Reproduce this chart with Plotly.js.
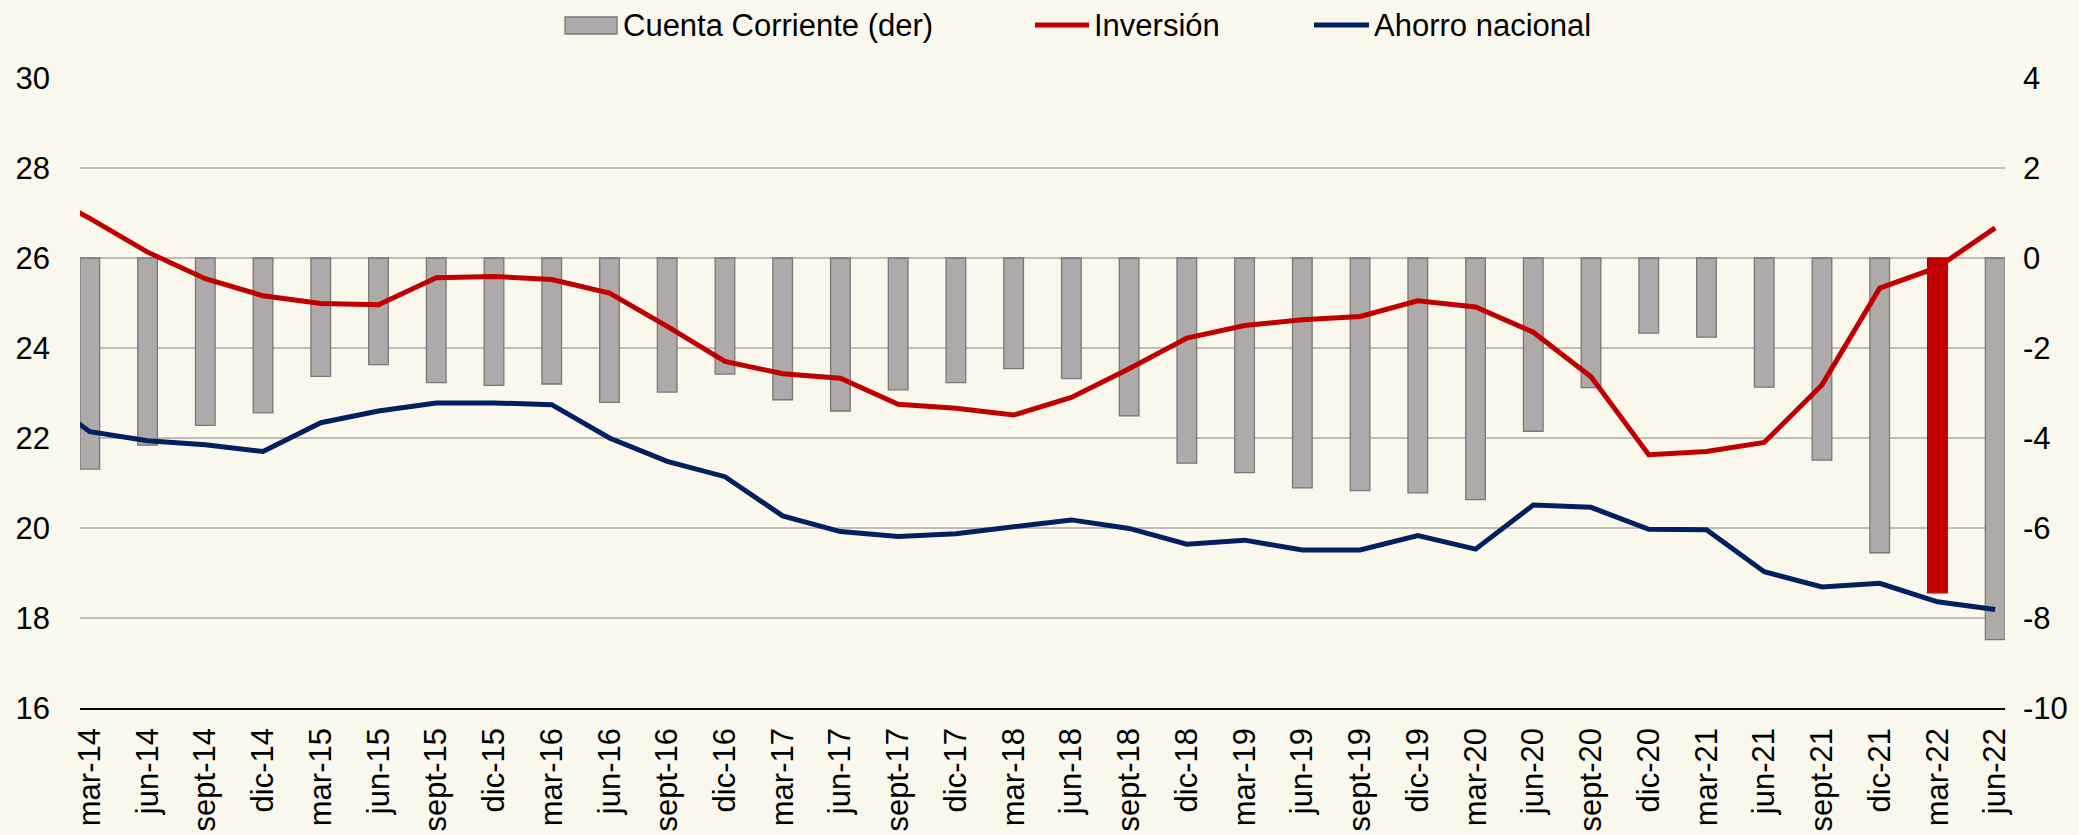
<!DOCTYPE html>
<html>
<head>
<meta charset="utf-8">
<script src="https://cdn.plot.ly/plotly-3.0.1.min.js"></script>
<style>
  html, body { margin: 0; padding: 0; background: #FAF8EC; }
  #chart { width: 2079px; height: 835px; }
</style>
</head>
<body>
<div id="chart"></div>
<script>
// Quarter labels ("dic-13" is the previous quarter, only partly visible at the left edge)
const categories = ['dic-13','mar-14','jun-14','sept-14','dic-14','mar-15','jun-15','sept-15','dic-15',
  'mar-16','jun-16','sept-16','dic-16','mar-17','jun-17','sept-17','dic-17','mar-18','jun-18','sept-18',
  'dic-18','mar-19','jun-19','sept-19','dic-19','mar-20','jun-20','sept-20','dic-20','mar-21','jun-21',
  'sept-21','dic-21','mar-22','jun-22'];

// Cuenta Corriente (% PIB, right axis)
const cuentaCorriente = [null, -4.69, -4.16, -3.72, -3.44, -2.63, -2.37, -2.77, -2.83, -2.80, -3.21,
  -2.98, -2.58, -3.15, -3.40, -2.93, -2.77, -2.46, -2.68, -3.51, -4.56, -4.77, -5.11, -5.17, -5.22,
  -5.37, -3.85, -2.88, -1.67, -1.76, -2.87, -4.49, -6.55, -7.44, -8.48];

// Inversión (% PIB, left axis)
const inversion = [27.58, 26.88, 26.13, 25.54, 25.16, 24.99, 24.96, 25.56, 25.59, 25.52, 25.22,
  24.48, 23.70, 23.43, 23.33, 22.75, 22.66, 22.51, 22.90, 23.54, 24.22, 24.50, 24.63, 24.70, 25.05,
  24.91, 24.35, 23.36, 21.63, 21.70, 21.90, 23.18, 25.33, 25.79, 26.67];

// Ahorro nacional (% PIB, left axis)
const ahorro = [23.08, 22.14, 21.94, 21.85, 21.70, 22.34, 22.60, 22.78, 22.78, 22.74, 22.00,
  21.48, 21.14, 20.27, 19.92, 19.81, 19.87, 20.03, 20.18, 19.99, 19.64, 19.73, 19.51, 19.51, 19.83,
  19.53, 20.51, 20.46, 19.97, 19.96, 19.03, 18.69, 18.77, 18.36, 18.19];

const seriesNames = ['Cuenta Corriente (der)', 'Inversión', 'Ahorro nacional'];
const highlightedQuarter = 'mar-22';

const leftTicks = [16, 18, 20, 22, 24, 26, 28, 30];
const rightTicks = [-10, -8, -6, -4, -2, 0, 2, 4];

const GRAY = '#AEAAAA', GRAY_LINE = '#7A7777', RED = '#C00000', NAVY = '#002060', BG = '#FAF8EC';
const FONT = '"Liberation Sans", Arial, sans-serif';

const barColors = categories.map(c => c === highlightedQuarter ? RED : GRAY);
const barLineColors = categories.map(c => c === highlightedQuarter ? RED : GRAY_LINE);

const traces = [
  {
    type: 'bar', name: seriesNames[0], x: categories, y: cuentaCorriente,
    yaxis: 'y', width: 0.34, showlegend: false,
    marker: { color: barColors, line: { color: barLineColors, width: 1.3 } }
  },
  {
    type: 'scatter', mode: 'lines', name: seriesNames[1], x: categories, y: inversion,
    yaxis: 'y2', line: { color: RED, width: 5 }, showlegend: false
  },
  {
    type: 'scatter', mode: 'lines', name: seriesNames[2], x: categories, y: ahorro,
    yaxis: 'y2', line: { color: NAVY, width: 5 }, showlegend: false
  }
];

// Legend drawn in the top band (paper coordinates derived from pixel layout)
const W = 2079, H = 835, ML = 80, MR = 74, MT = 78, MB = 127;
const PW = W - ML - MR, PH = H - MT - MB;
const px = v => (v - ML) / PW;
const py = v => (H - MB - v) / PH;
const legY = 25;

const shapes = [
  { type: 'rect', xref: 'paper', yref: 'paper', x0: px(565), x1: px(617), y0: py(34), y1: py(17),
    fillcolor: GRAY, line: { color: GRAY_LINE, width: 1.3 } },
  { type: 'line', xref: 'paper', yref: 'paper', x0: px(1035), x1: px(1089), y0: py(legY), y1: py(legY),
    line: { color: RED, width: 5 } },
  { type: 'line', xref: 'paper', yref: 'paper', x0: px(1314), x1: px(1369), y0: py(legY), y1: py(legY),
    line: { color: NAVY, width: 5 } }
];

const annotations = [
  { text: seriesNames[0], x: px(621), y: py(legY) },
  { text: seriesNames[1], x: px(1092), y: py(legY) },
  { text: seriesNames[2], x: px(1372), y: py(legY) }
].map(a => Object.assign({
  xref: 'paper', yref: 'paper', xanchor: 'left', yanchor: 'middle', showarrow: false,
  font: { family: FONT, size: 31, color: '#000' }
}, a));

const layout = {
  width: W, height: H,
  paper_bgcolor: BG, plot_bgcolor: BG,
  margin: { l: ML, r: MR, t: MT, b: MB, pad: 0, autoexpand: false },
  font: { family: FONT, size: 31, color: '#000' },
  bargap: 0,
  showlegend: false,
  xaxis: {
    type: 'category', range: [0.83, 34.17], dtick: 1, tick0: 0,
    tickangle: -90, ticks: '', showgrid: false, zeroline: false,
    showline: true, linecolor: '#000', linewidth: 1.6,
    ticklabelstandoff: 6, automargin: false,
    tickfont: { family: FONT, size: 31, color: '#000' }
  },
  yaxis: {
    side: 'right', range: [-10, 4], tickvals: rightTicks, ticktext: rightTicks.map(String),
    showgrid: true, gridcolor: '#BDBDBA', gridwidth: 2, zeroline: false, showline: false,
    ticks: '', ticklabelstandoff: 17, automargin: false,
    tickfont: { family: FONT, size: 31, color: '#000' }
  },
  yaxis2: {
    overlaying: 'y', side: 'left', range: [16, 30], tickvals: leftTicks, ticktext: leftTicks.map(String),
    showgrid: false, zeroline: false, showline: false,
    ticks: '', ticklabelstandoff: 29, automargin: false,
    tickfont: { family: FONT, size: 31, color: '#000' }
  },
  shapes: shapes,
  annotations: annotations
};

Plotly.newPlot('chart', traces, layout, { displayModeBar: false, staticPlot: true });
</script>
</body>
</html>
